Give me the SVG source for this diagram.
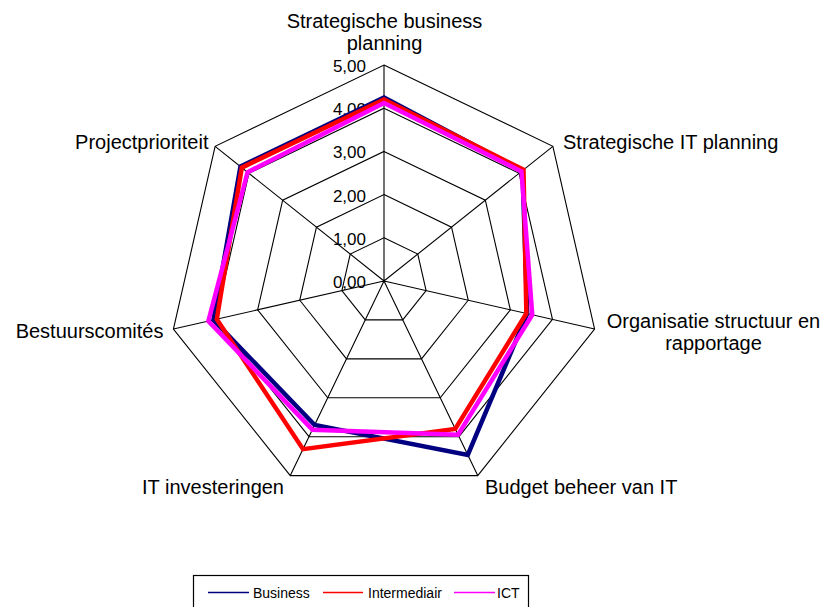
<svg xmlns="http://www.w3.org/2000/svg" width="825" height="607" viewBox="0 0 825 607">
<style>
.grid{fill:none;stroke:#000;stroke-width:1.1}
.lbl{font-family:"Liberation Sans",Arial,sans-serif;font-size:20px;fill:#000}
.tick{font-family:"Liberation Sans",Arial,sans-serif;font-size:17px;fill:#000;text-anchor:end}
.leg{font-family:"Liberation Sans",Arial,sans-serif;font-size:14px;fill:#000}
.series{fill:none;stroke-width:4.5;stroke-linejoin:miter}
</style>
<rect width="825" height="607" fill="#fff"/>
<g id="grid">
<polygon class="grid" points="384,237.8 417.78,254.07 426.12,290.61 402.74,319.92 365.26,319.92 341.88,290.61 350.22,254.07"/>
<polygon class="grid" points="384,194.6 451.55,227.13 468.23,300.23 421.49,358.84 346.51,358.84 299.77,300.23 316.45,227.13"/>
<polygon class="grid" points="384,151.4 485.33,200.2 510.35,309.84 440.23,397.77 327.77,397.77 257.65,309.84 282.67,200.2"/>
<polygon class="grid" points="384,108.2 519.1,173.26 552.47,319.45 458.98,436.69 309.02,436.69 215.53,319.45 248.9,173.26"/>
<polygon class="grid" points="384,65 552.88,146.33 594.58,329.06 477.72,475.61 290.28,475.61 173.42,329.06 215.12,146.33"/>
<path class="grid" d="M384,281L384,65M384,281L552.88,146.33M384,281L594.58,329.06M384,281L477.72,475.61M384,281L290.28,475.61M384,281L173.42,329.06M384,281L215.12,146.33"/>
</g>
<g id="ticks">
<text class="tick" x="366" y="72">5,00</text>
<text class="tick" x="366" y="115.2">4,00</text>
<text class="tick" x="366" y="158.4">3,00</text>
<text class="tick" x="366" y="201.6">2,00</text>
<text class="tick" x="366" y="244.8">1,00</text>
<text class="tick" x="366" y="288">0,00</text>
</g>
<g id="connectors">
<polygon id="business" class="series" stroke="#000080" points="384,97.4 522.48,170.57 527.2,313.68 467.78,454.98 314.65,425.01 213.43,319.93 240.46,166.53"/>
<polygon id="intermediair" class="series" stroke="#FF0000" points="384,99.56 523.49,169.76 526.36,313.49 455.23,428.9 303.03,449.14 216.8,319.16 241.81,167.61"/>
<polygon id="ict" class="series" stroke="#FF00FF" points="384,103.02 521.46,171.38 532.25,314.84 458.04,434.74 312.4,429.68 208.37,321.09 247.55,172.18"/>
</g>
<g id="axis-labels">
<g id="label-0"><text class="lbl" x="384.5" y="27.5" text-anchor="middle">Strategische business</text><text class="lbl" x="384.5" y="49.5" text-anchor="middle">planning</text></g>
<g id="label-1"><text class="lbl" x="563" y="149">Strategische IT planning</text></g>
<g id="label-2"><text class="lbl" x="713.5" y="328" text-anchor="middle">Organisatie structuur en</text><text class="lbl" x="713.5" y="350" text-anchor="middle">rapportage</text></g>
<g id="label-3"><text class="lbl" x="485" y="494">Budget beheer van IT</text></g>
<g id="label-4"><text class="lbl" x="284" y="494" text-anchor="end">IT investeringen</text></g>
<g id="label-5"><text class="lbl" x="163.5" y="338" text-anchor="end">Bestuurscomités</text></g>
<g id="label-6"><text class="lbl" x="208.5" y="149" text-anchor="end">Projectprioriteit</text></g>
</g>
<g id="legend">
<rect x="193.5" y="575.5" width="335" height="40" fill="#fff" stroke="#000" stroke-width="1.2"/>
<line x1="208" y1="592.5" x2="249" y2="592.5" stroke="#000080" stroke-width="1.5"/>
<text class="leg" x="253" y="597.5">Business</text>
<line x1="323" y1="592.5" x2="363" y2="592.5" stroke="#FF0000" stroke-width="1.5"/>
<text class="leg" x="368" y="597.5">Intermediair</text>
<line x1="454" y1="592.5" x2="495" y2="592.5" stroke="#FF00FF" stroke-width="1.5"/>
<text class="leg" x="497" y="597.5">ICT</text>
</g>
</svg>
